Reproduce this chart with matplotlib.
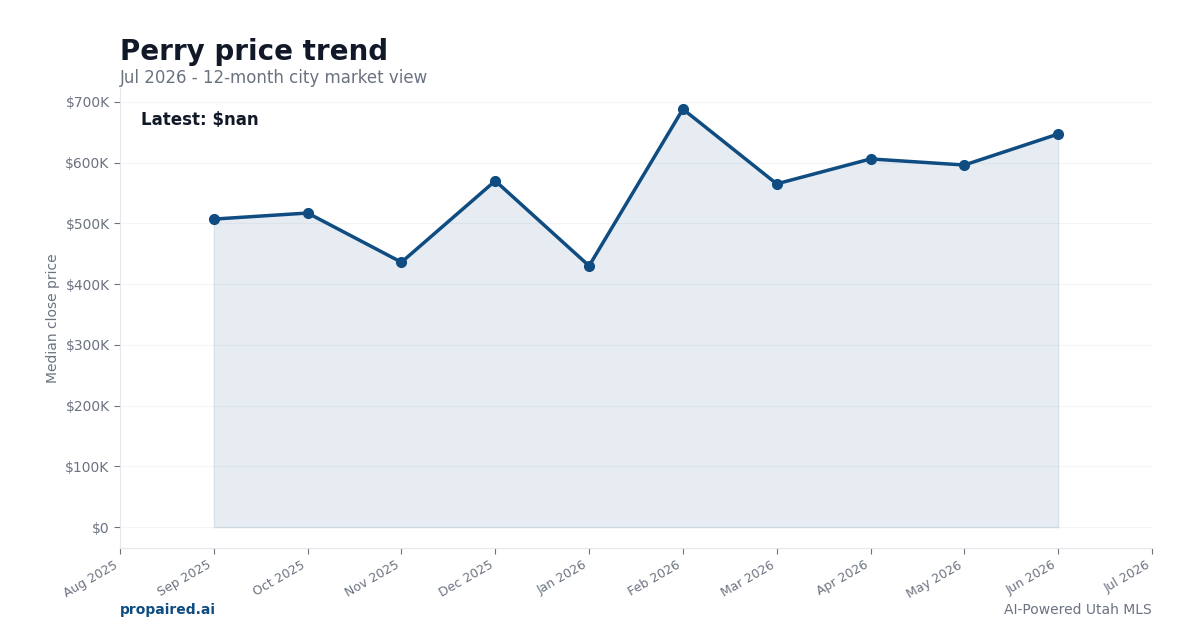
import matplotlib
matplotlib.use("Agg")
import matplotlib.pyplot as plt
from matplotlib.ticker import FuncFormatter

months = ["Aug 2025", "Sep 2025", "Oct 2025", "Nov 2025", "Dec 2025", "Jan 2026",
          "Feb 2026", "Mar 2026", "Apr 2026", "May 2026", "Jun 2026", "Jul 2026"]
data_months = months[1:11]
prices = [507000, 517000, 436000, 570000, 430000, 688000, 565000, 606000, 596000, 647000]

navy = "#0f4c81"
gray = "#6b7280"
dark = "#111827"
light = "#e5e7eb"

fig = plt.figure(figsize=(12, 6.3), dpi=100)
ax = fig.add_axes([0.1, 0.130, 0.86, 0.730])

x = [months.index(m) for m in data_months]
ax.fill_between(x, prices, 0, color=navy, alpha=0.1, linewidth=1)
ax.plot(x, prices, color=navy, linewidth=2.5, marker="o", markersize=7)

ax.set_xlim(0, len(months) - 1)
ax.set_xticks(range(len(months)))
ax.set_xticklabels(months, rotation=30, ha="right", fontsize=9, color=gray)
ax.set_yticks([i * 100000 for i in range(8)])
ax.yaxis.set_major_formatter(FuncFormatter(lambda v, p: f"${v/1000:.0f}K" if v else "$0"))
ax.tick_params(axis="y", labelsize=10, labelcolor=gray, color=gray, length=4)
ax.tick_params(axis="x", color=gray, length=4)
ax.grid(axis="y", color="#f3f4f6", linewidth=0.8)
ax.set_axisbelow(True)
for s in ["top", "right"]:
    ax.spines[s].set_visible(False)
for s in ["left", "bottom"]:
    ax.spines[s].set_color(light)
ax.set_ylabel("Median close price", fontsize=10, color=gray)

ax.text(0.02, 0.95, "Latest: $nan", transform=ax.transAxes, fontsize=12,
        fontweight="bold", color=dark, va="top")

fig.text(0.1, 0.905, "Perry price trend", fontsize=20, fontweight="bold", color=dark, va="baseline")
fig.text(0.1, 0.868, "Jul 2026 - 12-month city market view", fontsize=12, color=gray, va="baseline")
fig.text(0.1, 0.025, "propaired.ai", fontsize=10, fontweight="bold", color=navy, va="baseline")
fig.text(0.96, 0.025, "AI-Powered Utah MLS", fontsize=10, color=gray, va="baseline", ha="right")

fig.savefig("out.png", dpi=100, facecolor="white")
